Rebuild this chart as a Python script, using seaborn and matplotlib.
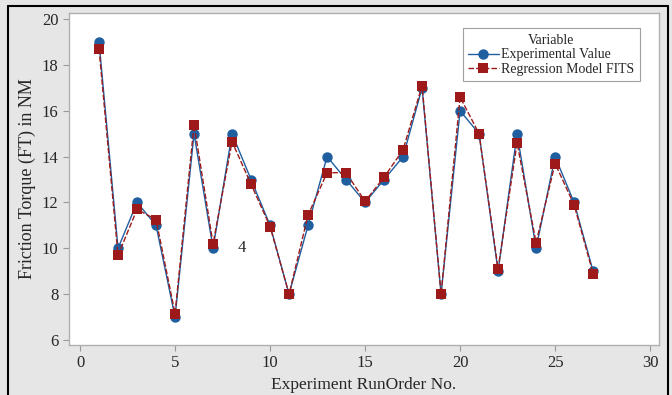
import seaborn as sns
import pandas as pd
import matplotlib.pyplot as plt
from matplotlib.lines import Line2D

# Run order and measured / fitted friction torque
run_order = list(range(1, 28))
experimental = [19, 10, 12, 11, 7, 15, 10, 15, 13, 11, 8, 11, 14, 13, 12, 13, 14, 17,
                8, 16, 15, 9, 15, 10, 14, 12, 9]
regression = [18.7, 9.7, 11.7, 11.25, 7.15, 15.4, 10.2, 14.65, 12.8, 10.95, 8.0, 11.45,
              13.3, 13.3, 12.05, 13.1, 14.3, 17.1, 8.0, 16.6, 15.0, 9.1, 14.6, 10.25,
              13.7, 11.9, 8.9]
series_names = ["Experimental Value", "Regression Model FITS"]

df = pd.concat([
    pd.DataFrame({"RunOrder": run_order, "FT": experimental, "Variable": series_names[0]}),
    pd.DataFrame({"RunOrder": run_order, "FT": regression, "Variable": series_names[1]}),
])

sns.set_style("white")
plt.rcParams['font.family'] = ['Liberation Serif', 'DejaVu Serif']

fig = plt.figure(figsize=(6.72, 3.95), dpi=100, facecolor="#e6e6e6")
ax = fig.add_axes([0.1027, 0.1266, 0.878, 0.84])
ax.set_facecolor("white")

palette = {series_names[0]: "#1f5fa0", series_names[1]: "#9e1a1a"}
sns.lineplot(
    data=df, x="RunOrder", y="FT", hue="Variable", style="Variable",
    palette=palette, markers={series_names[0]: "o", series_names[1]: "s"},
    dashes={series_names[0]: "", series_names[1]: (4, 1.5)},
    markersize=7.5, markeredgewidth=0, linewidth=1.0, ax=ax,
)

ax.text(8.3, 10.0, "4", fontsize=12, va="center")

ax.set_xlim(-0.58, 30.47)
ax.set_ylim(5.78, 20.26)
ax.set_xticks([0, 5, 10, 15, 20, 25, 30])
ax.set_yticks([6, 8, 10, 12, 14, 16, 18, 20])
ax.tick_params(axis="both", labelsize=12, length=4, color="#999999", direction="out",
               bottom=True, left=True)
for s in ax.spines.values():
    s.set_color("#b0b0b0")
    s.set_linewidth(1.0)

ax.set_xlabel("Experiment RunOrder No.", fontsize=12.5)
ax.set_ylabel("Friction Torque (FT) in NM", fontsize=13)

leg = ax.legend(title="Variable", fontsize=10, title_fontsize=10, loc="upper right",
                bbox_to_anchor=(0.98, 0.975), frameon=True, fancybox=False,
                borderpad=0.4, handlelength=2.2, handletextpad=0.2, labelspacing=0.1)
leg.get_frame().set_edgecolor("#888888")
leg.get_frame().set_linewidth(0.8)

# outer black frame (left, top, right) like the exported figure
for xs, ys in [([0.012, 0.012], [0.0, 0.985]), ([0.012, 0.994], [0.985, 0.985]),
               ([0.994, 0.994], [0.0, 0.985])]:
    fig.lines.append(Line2D(xs, ys, transform=fig.transFigure, color="black", linewidth=1.5))

fig.savefig("out.png", dpi=100, facecolor=fig.get_facecolor())
